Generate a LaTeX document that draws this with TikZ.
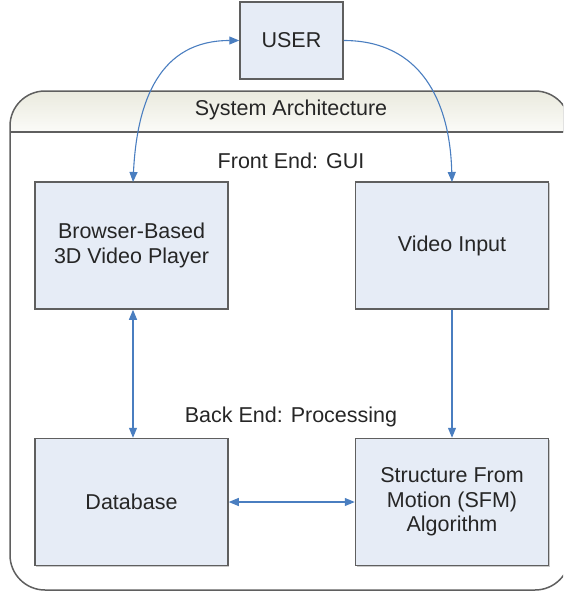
\documentclass[tikz,border=0pt]{standalone}
\usepackage{fontspec}
\setmainfont{Liberation Sans}
\usepackage{xcolor}
\usepackage{tikz}
\usetikzlibrary{arrows.meta, shadows}
\definecolor{boxfill}{RGB}{230, 236, 246}
\definecolor{boxline}{RGB}{95, 95, 95}
\definecolor{flow}{RGB}{74, 126, 192}
\definecolor{headtop}{RGB}{234, 234, 222}
\definecolor{headbot}{RGB}{251, 251, 248}
\definecolor{ink}{RGB}{38, 38, 38}

\begin{document}
\begin{tikzpicture}[x=1pt, y=-1pt,
  font=\fontsize{21.5}{24.5}\selectfont, text=ink,
  box/.style={draw=boxline, line width=1.5pt, fill=boxfill, align=center,
    minimum width=193pt, minimum height=127pt, inner sep=2pt,
    drop shadow={shadow xshift=1pt, shadow yshift=-1pt, fill=black!35, opacity=0.6}},
  link/.style={draw=flow, line width=1.1pt, -{Triangle[length=10pt, width=8pt]}},
  both/.style={link, {Triangle[length=10pt, width=8pt]}-{Triangle[length=10pt, width=8pt]}}]

\useasboundingbox (0,0) rectangle (563,592);

% outer frame, cut off at the right edge
\begin{scope}
\clip (0,0) rectangle (563,592);
\fill[top color=headtop, bottom color=headbot]
  (10,132) [rounded corners=35pt] -- (10,91) -- (570,91) [sharp corners] -- (570,132) -- cycle;
\draw[boxline, line width=1.5pt, rounded corners=35pt] (10,91) rectangle (570,590);
\draw[boxline, line width=1.5pt] (10,132) -- (570,132);
\end{scope}

\node (sysarch) at (291,110) {System Architecture};
\node (frontend) at (291,161) {Front End: GUI};
\node (backend) at (291,417) {Back End: Processing};

\node[box, minimum width=103pt, minimum height=77pt] (user) at (291.5,40.5) {USER};
\node[box] (player) at (131.5,245.5) {Browser-Based\\3D Video Player};
\node[box] (video) at (452,245.5) {Video Input};
\node[box] (db) at (131.5,502) {Database};
\node[box] (sfm) at (452,502) {Structure From\\Motion (SFM)\\Algorithm};

\coordinate (p1) at (133,182);
\coordinate (p2) at (452,182);

\draw[both] (user.west) .. controls (160,40.5) and (137,100) .. (p1);
\draw[link] (user.east) .. controls (420,40.5) and (450,100) .. (p2);
\draw[both] (player.south -| p1) -- (db.north -| p1);
\draw[link] (video.south) -- (sfm.north);
\draw[both] (db.east) -- (sfm.west);

\end{tikzpicture}
\end{document}
